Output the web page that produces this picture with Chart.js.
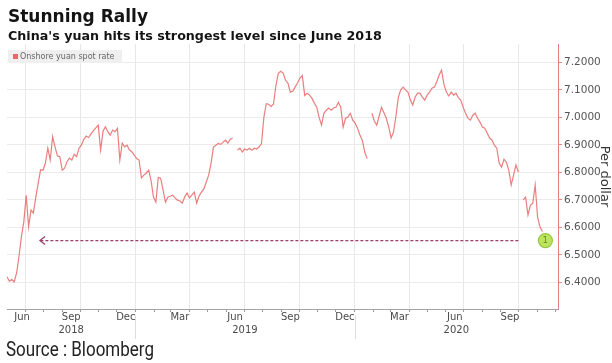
<!DOCTYPE html>
<html>
<head>
<meta charset="utf-8">
<title>Stunning Rally</title>
<script src="https://cdn.jsdelivr.net/npm/chart.js@4.4.1/dist/chart.umd.min.js"></script>
<style>
  html, body { margin: 0; padding: 0; background: #fff; }
  #wrap { position: relative; width: 612px; height: 363px; overflow: hidden; background: #fff; }
  #chart { position: absolute; left: 0; top: 0; }
  .head { position: absolute; left: 8px; font-family: "DejaVu Sans", Verdana, sans-serif; font-weight: bold; color: #141414; white-space: nowrap; }
  #title { top: 6px; font-size: 17px; }
  #subtitle { top: 28px; font-size: 12.7px; }
  #source { position: absolute; left: 6px; top: 337px; font-family: "Liberation Sans Narrow", "Roboto", sans-serif; font-size: 20px; color: #222; white-space: nowrap; transform: scaleX(0.85); transform-origin: 0 0; }
</style>
</head>
<body>
<div id="wrap">
  <canvas id="chart" width="612" height="363"></canvas>
  <div class="head" id="title">Stunning Rally</div>
  <div class="head" id="subtitle">China's yuan hits its strongest level since June 2018</div>
  <div id="source">Source : Bloomberg</div>
</div>
<script>
const DAY = 86400000;

// USD/CNY onshore spot, one reading every 4 days from 1 June 2018 (null = market closed)
const startDate = Date.UTC(2018, 5, 1);
const endDate = Date.UTC(2020, 11, 5);
const stepDays = 4;
const spotRates = [
  6.420, 6.404, 6.410, 6.402, 6.434, 6.495, 6.566, 6.620, 6.717, 6.602,
  6.663, 6.652, 6.710, 6.761, 6.810, 6.808, 6.834, 6.888, 6.845, 6.930,
  6.893, 6.860, 6.857, 6.808, 6.815, 6.839, 6.852, 6.845, 6.866, 6.857,
  6.888, 6.900, 6.920, 6.932, 6.927, 6.940, 6.952, 6.962, 6.972, 6.881,
  6.950, 6.966, 6.948, 6.936, 6.954, 6.948, 6.960, 6.845, 6.906, 6.893,
  6.899, 6.881, 6.875, 6.863, 6.850, 6.845, 6.780, 6.790, 6.797, 6.808,
  6.770, 6.710, 6.692, 6.781, 6.779, 6.736, 6.692, 6.710, 6.713, 6.717,
  6.707, 6.699, 6.696, 6.688, 6.710, 6.725, 6.707, 6.717, 6.728, 6.688,
  6.714, 6.728, 6.740, 6.765, 6.790, 6.834, 6.892, 6.899, 6.905, 6.902,
  6.910, 6.917, 6.906, 6.921, 6.925, null,  6.881, 6.888, 6.874, 6.885,
  6.881, 6.888, 6.881, 6.888, 6.885, 6.892, 6.905, 7.001, 7.050, 7.048,
  7.040, 7.048, 7.115, 7.160, 7.168, 7.161, 7.136, 7.125, 7.092, 7.095,
  7.110, 7.125, 7.143, 7.152, 7.080, 7.088, 7.081, 7.070, 7.052, 7.037,
  7.000, 6.972, 7.015, 7.026, 7.034, 7.026, 7.034, 7.037, 7.055, 7.037,
  6.965, 6.997, 7.001, 7.015, 6.990, 6.979, 6.961, 6.936, 6.917, 6.874,
  6.850, null,  7.015, 6.987, 6.972, 7.005, 7.037, 7.017, 6.997, 6.965,
  6.925, 6.947, 7.005, 7.074, 7.100, 7.110, 7.100, 7.092, 7.063, 7.045,
  7.074, 7.088, 7.088, 7.074, 7.063, 7.081, 7.092, 7.106, 7.110, 7.130,
  7.154, 7.172, 7.120, 7.092, 7.078, 7.092, 7.081, 7.088, 7.072, 7.063,
  7.037, 7.015, 6.997, 6.990, 7.008, 7.015, 6.997, 6.983, 6.965, 6.961,
  6.943, 6.925, 6.917, 6.899, 6.888, 6.834, 6.819, 6.848, 6.837, 6.808,
  6.754, 6.790, 6.827, 6.801, null,  6.700, 6.710, 6.645, 6.680, 6.688,
  6.754, 6.637, 6.601, 6.585
];

const rateTicks = [6.4, 6.5, 6.6, 6.7, 6.8, 6.9, 7.0, 7.1, 7.2];
const rateMin = 6.303;
const rateMax = 7.267;

const monthLabels = ['Jun', 'Sep', 'Dec', 'Mar', 'Jun', 'Sep', 'Dec', 'Mar', 'Jun', 'Sep'];
const monthLabelDates = ['2018-06-16', '2018-09-16', '2018-12-16', '2019-03-16', '2019-06-16',
                         '2019-09-16', '2019-12-16', '2020-03-16', '2020-06-16', '2020-09-16'];
const yearLabels = ['2018', '2019', '2020'];

// dotted guide back to the June 2018 level, and the numbered marker on the latest close
const guideFrom = '2018-07-26';
const guideTo = '2020-09-30';
const latestLevel = 6.552;
const markerDate = '2020-11-14';

const points = spotRates.map((v, i) => ({ x: startDate + i * stepDays * DAY, y: v }));

const monthStarts = [];
for (let k = 0; k < 30; k++) {
  const t = Date.UTC(2018, 6 + k, 1);
  if (t < endDate) monthStarts.push(t);
}
const isQuarterStart = v => new Date(v).getUTCMonth() % 3 === 0;

const axisFont = '10px "DejaVu Sans", Verdana, sans-serif';

const decorations = {
  id: 'decorations',
  afterDatasetsDraw(chart) {
    const { ctx, scales: { x, y } } = chart;
    const gy = y.getPixelForValue(latestLevel);
    const g0 = x.getPixelForValue(Date.parse(guideFrom));
    const g1 = x.getPixelForValue(Date.parse(guideTo));

    ctx.save();
    ctx.strokeStyle = '#9c3f6c';
    ctx.lineWidth = 1.3;
    ctx.setLineDash([3, 2]);
    ctx.beginPath();
    ctx.moveTo(g1, gy);
    ctx.lineTo(g0, gy);
    ctx.stroke();
    ctx.setLineDash([]);
    ctx.beginPath();
    ctx.moveTo(g0 + 5, gy - 4);
    ctx.lineTo(g0, gy);
    ctx.lineTo(g0 + 5, gy + 4);
    ctx.stroke();

    const mx = x.getPixelForValue(Date.parse(markerDate));
    ctx.beginPath();
    ctx.arc(mx, gy, 7, 0, Math.PI * 2);
    ctx.fillStyle = '#bde35f';
    ctx.fill();
    ctx.lineWidth = 1.2;
    ctx.strokeStyle = '#93c940';
    ctx.stroke();
    ctx.fillStyle = '#5d8a1d';
    ctx.font = '8px "DejaVu Sans", sans-serif';
    ctx.textAlign = 'center';
    ctx.textBaseline = 'middle';
    ctx.fillText('1', mx, gy + 0.5);
    ctx.restore();
  },
  afterDraw(chart) {
    const { ctx, chartArea: area, scales: { x } } = chart;
    ctx.save();

    // month names under the axis
    ctx.font = axisFont;
    ctx.fillStyle = '#4a4a4a';
    ctx.textAlign = 'center';
    ctx.textBaseline = 'top';
    monthLabels.forEach((name, i) => {
      const px = Math.max(x.getPixelForValue(Date.parse(monthLabelDates[i])), area.left + 15);
      ctx.fillText(name, px, area.bottom + 3);
    });

    // year row with separators at each new year
    yearLabels.forEach(yr => {
      const y0 = Date.UTC(+yr, 0, 1);
      const y1 = Date.UTC(+yr + 1, 0, 1);
      const left = Math.max(x.getPixelForValue(y0), area.left);
      const right = Math.min(x.getPixelForValue(y1), area.right);
      ctx.fillText(yr, (left + right) / 2, area.bottom + 16);
      if (y0 > x.min) {
        ctx.strokeStyle = '#dddddd';
        ctx.lineWidth = 1;
        ctx.beginPath();
        ctx.moveTo(Math.round(left) + 0.5, area.bottom + 6);
        ctx.lineTo(Math.round(left) + 0.5, area.bottom + 30);
        ctx.stroke();
      }
    });

    // legend chip
    const ds = chart.data.datasets[0];
    ctx.fillStyle = '#efefef';
    ctx.fillRect(8, 50, 114, 13);
    ctx.fillStyle = '#e46a6a';
    ctx.fillRect(13, 54, 5, 5);
    ctx.fillStyle = '#666';
    ctx.font = '8px "DejaVu Sans", sans-serif';
    ctx.textAlign = 'left';
    ctx.textBaseline = 'middle';
    ctx.fillText(ds.label, 20, 56.8);
    ctx.restore();
  }
};

new Chart(document.getElementById('chart'), {
  type: 'line',
  data: {
    datasets: [{
      label: 'Onshore yuan spot rate',
      data: points,
      borderColor: 'rgba(232, 112, 112, 0.9)',
      borderWidth: 1.2,
      pointRadius: 0,
      tension: 0,
      spanGaps: false
    }]
  },
  options: {
    responsive: false,
    animation: false,
    devicePixelRatio: 1,
    layout: { padding: { left: 7, top: 44, right: 0, bottom: 0 } },
    plugins: { legend: { display: false }, tooltip: { enabled: false } },
    scales: {
      x: {
        type: 'linear',
        min: startDate,
        max: endDate,
        afterBuildTicks: s => { s.ticks = monthStarts.map(v => ({ value: v })); },
        afterFit: s => { s.height = 54; },
        ticks: { display: false },
        grid: {
          color: c => (c.tick && isQuarterStart(c.tick.value)) ? '#e8e8e8' : 'rgba(0,0,0,0)',
          tickColor: '#9a9a9a',
          tickLength: 3
        },
        border: { color: '#a3a3a3' }
      },
      y: {
        position: 'right',
        min: rateMin,
        max: rateMax,
        afterBuildTicks: s => { s.ticks = rateTicks.map(v => ({ value: v })); },
        afterFit: s => { s.width = 54; },
        ticks: {
          callback: v => v.toFixed(4),
          color: '#555',
          font: { family: '"DejaVu Sans", Verdana, sans-serif', size: 10.5 },
          padding: 2
        },
        grid: { color: '#ebebeb', tickColor: '#e58a8a', tickLength: 4 },
        border: { color: '#e58080' },
        title: {
          display: true,
          text: 'Per dollar',
          color: '#333',
          font: { family: '"DejaVu Sans", Verdana, sans-serif', size: 13 },
          padding: 0
        }
      }
    }
  },
  plugins: [decorations]
});
</script>
</body>
</html>
